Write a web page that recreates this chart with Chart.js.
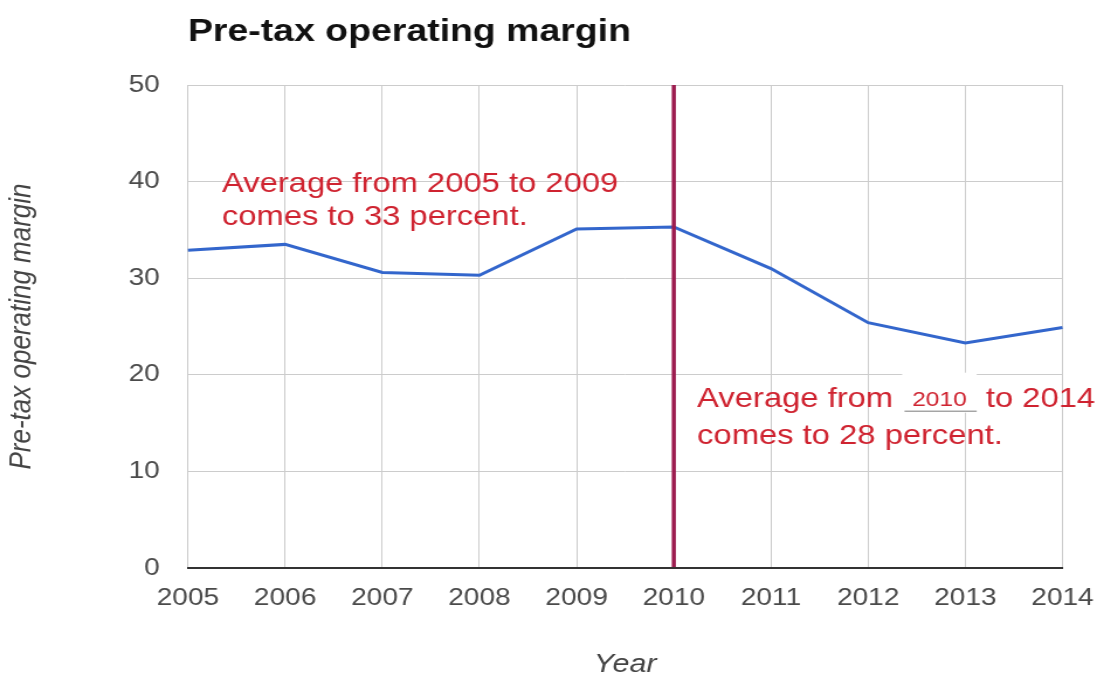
<!DOCTYPE html>
<html>
<head>
<meta charset="utf-8">
<title>Pre-tax operating margin</title>
<script src="https://cdn.jsdelivr.net/npm/chart.js@4.4.1/dist/chart.umd.min.js"></script>
<style>
  html, body { margin: 0; padding: 0; background: #fff; overflow: hidden; }
  /* the chart is drawn on a narrower canvas and widened to the window */
  #wrap { width: 938px; height: 674px; transform: scaleX(1.1695); transform-origin: 0 0; }
  canvas { display: block; }
</style>
</head>
<body>
<div id="wrap"><canvas id="chart" width="938" height="674"></canvas></div>
<script>
// ---- data ----
const years = ['2005', '2006', '2007', '2008', '2009', '2010', '2011', '2012', '2013', '2014'];
const margin = [32.9, 33.5, 30.6, 30.3, 35.1, 35.3, 31.0, 25.4, 23.3, 24.9];
const yTicks = [0, 10, 20, 30, 40, 50];

// ---- text ----
const chartTitle = 'Pre-tax operating margin';
const yTitle = 'Pre-tax operating margin';
const xTitle = 'Year';
const splitYear = '2010';
const earlyNote = ['Average from 2005 to 2009', 'comes to 33 percent.'];
const lateNoteHead = 'Average from';
const lateNoteYear = '2010';
const lateNoteTail = 'to 2014';
const lateNoteLine2 = 'comes to 28 percent.';

const FONT = "'Liberation Sans', Arial, sans-serif";

// Split-year marker, the two average notes and the titles
const overlay = {
  id: 'overlay',
  afterDatasetsDraw(chart, args, o) {
    const { ctx, chartArea: a, scales: { x, y } } = chart;
    ctx.save();

    // vertical marker at the split year
    const mx = x.getPixelForValue(years.indexOf(splitYear));
    ctx.strokeStyle = o.markerColor;
    ctx.lineWidth = o.markerWidth;
    ctx.beginPath();
    ctx.moveTo(mx, a.top);
    ctx.lineTo(mx, a.bottom);
    ctx.stroke();

    ctx.textAlign = 'left';
    ctx.textBaseline = 'alphabetic';
    ctx.fillStyle = o.noteColor;
    ctx.font = `${o.noteSize}px ${FONT}`;

    // note for the earlier years
    const ex = x.getPixelForValue(o.earlyAt.x);
    earlyNote.forEach((line, i) => {
      ctx.fillText(line, ex, y.getPixelForValue(o.earlyAt.y[i]));
    });

    // note for the later years, with the boxed year in a smaller type
    const lx = x.getPixelForValue(o.lateAt.x);
    const b1 = y.getPixelForValue(o.lateAt.y[0]);
    const b2 = y.getPixelForValue(o.lateAt.y[1]);
    const space = ctx.measureText(' ').width;
    ctx.fillText(lateNoteHead, lx, b1);
    const boxL = lx + ctx.measureText(lateNoteHead).width + space;

    ctx.font = `${o.yearSize}px ${FONT}`;
    const tw = ctx.measureText(lateNoteYear).width;
    const boxW = tw + 2 * o.yearPad;
    ctx.fillStyle = '#ffffff';
    ctx.fillRect(boxL, b1 - 34, boxW, 40);
    ctx.fillStyle = o.noteColor;
    ctx.fillText(lateNoteYear, boxL + o.yearPad, b1 - 1);
    ctx.strokeStyle = '#7a7a7a';
    ctx.lineWidth = 1;
    ctx.beginPath();
    ctx.moveTo(boxL + 2, b1 + 4.5);
    ctx.lineTo(boxL + boxW, b1 + 4.5);
    ctx.stroke();

    ctx.font = `${o.noteSize}px ${FONT}`;
    ctx.fillText(lateNoteTail, boxL + boxW + space, b1);
    ctx.fillText(lateNoteLine2, lx, b2);

    ctx.restore();
  },
  afterDraw(chart, args, o) {
    const { ctx, chartArea: a } = chart;
    ctx.save();
    // chart title
    ctx.fillStyle = '#111111';
    ctx.font = `bold 32px ${FONT}`;
    ctx.textAlign = 'left';
    ctx.textBaseline = 'alphabetic';
    ctx.fillText(chartTitle, a.left, 41);

    // axis titles
    ctx.fillStyle = '#444444';
    ctx.font = `italic 26px ${FONT}`;
    ctx.textAlign = 'center';
    ctx.fillText(xTitle, (a.left + a.right) / 2, 672);

    ctx.translate(19, (a.top + a.bottom) / 2);
    ctx.rotate(-Math.PI / 2);
    ctx.textBaseline = 'middle';
    ctx.fillText(yTitle, 0, 0);
    ctx.restore();
  }
};

const tickFont = { family: FONT, size: 24 };

new Chart(document.getElementById('chart'), {
  type: 'line',
  data: {
    labels: years,
    datasets: [{
      data: margin,
      borderColor: '#3366cc',
      borderWidth: 3,
      pointRadius: 0,
      pointHoverRadius: 0,
      tension: 0,
      fill: false
    }]
  },
  options: {
    responsive: false,
    animation: false,
    devicePixelRatio: 1,
    layout: { padding: { top: 85, right: 29.5, left: 0, bottom: 0 } },
    plugins: {
      legend: { display: false },
      tooltip: { enabled: false },
      title: { display: false },
      overlay: {
        markerColor: '#9c1b4e',
        markerWidth: 3.5,
        noteColor: '#cf2330',
        noteSize: 28,
        yearSize: 21,
        yearPad: 8.5,
        earlyAt: { x: 0.35, y: [38.9, 35.5] },
        lateAt: { x: 5.24, y: [16.7, 12.8] }
      }
    },
    scales: {
      x: {
        grid: { color: '#cccccc', lineWidth: 1, drawTicks: false },
        border: { display: true, color: '#333333', width: 2, z: 1 },
        ticks: { color: '#4a4a4a', font: tickFont, padding: 16, maxRotation: 0, autoSkip: false },
        afterFit(scale) {
          scale.height = 106;
          scale.paddingLeft = 0;
          scale.paddingRight = 0;
        }
      },
      y: {
        min: yTicks[0],
        max: yTicks[yTicks.length - 1],
        afterBuildTicks(scale) { scale.ticks = yTicks.map(v => ({ value: v })); },
        grid: { color: '#cccccc', lineWidth: 1, drawTicks: false },
        border: { display: false },
        ticks: { color: '#4a4a4a', font: tickFont, padding: 24 },
        afterFit(scale) { scale.width = 160.7; }
      }
    }
  },
  plugins: [overlay]
});
</script>
</body>
</html>
